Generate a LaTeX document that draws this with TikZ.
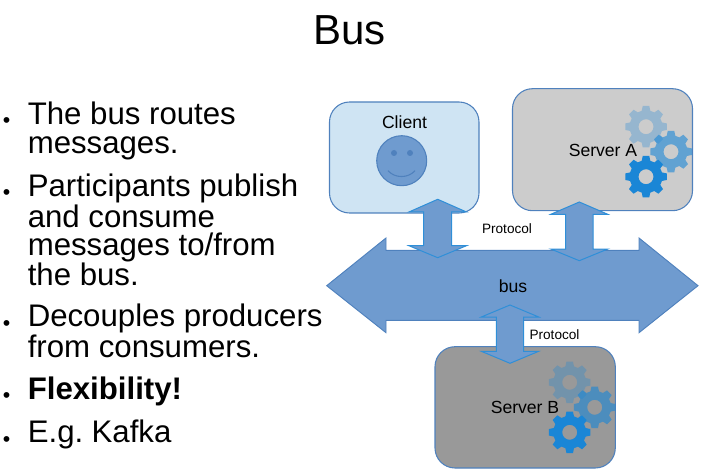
\documentclass[tikz,border=0pt]{standalone}
\usepackage{fontspec}
\setmainfont{Liberation Sans}
\definecolor{busfill}{HTML}{6F9BCF}
\definecolor{busline}{HTML}{4F81BD}
\definecolor{arrline}{HTML}{2F8FD8}
\definecolor{clientfill}{HTML}{CFE4F3}
\definecolor{gearblue}{HTML}{1A86D6}
\newcommand{\gearat}[3]{%
  \begin{scope}[shift={(#1,#2)}]
    \fill[gearblue,fill opacity=#3,even odd rule]
      (-15:16.5)
      \foreach \a in {0,45,...,315}{
        -- ({\a-15}:16.5) -- ({\a-9}:21) -- ({\a+9}:21) -- ({\a+15}:16.5)
      } -- cycle
      (0,0) circle (7.5);
  \end{scope}}
\newcommand{\gearset}[2]{%
  \begin{scope}[shift={(#1,#2)}]
    \gearat{0}{0}{.3}
    \gearat{25}{25}{.6}
    \gearat{0}{50}{1}
  \end{scope}}
\newcommand{\dblarrow}[8]{% x-centre, half head, half shaft, top tip, top base, bottom base, bottom tip, name
  \draw[smallarrow] (#1,#4) -- (#1+#2,#5) -- (#1+#3,#5) -- (#1+#3,#6) -- (#1+#2,#6)
     -- (#1,#7) -- (#1-#2,#6) -- (#1-#3,#6) -- (#1-#3,#5) -- (#1-#2,#5) -- cycle;
  \coordinate (#8) at (#1,#4);}
\tikzset{
  px/.style={x=0.75pt,y=-0.75pt},
  slidetext/.style={font=\fontsize{23.4}{21.2}\selectfont,anchor=north west,inner sep=0pt,align=left},
  bulletmark/.style={font=\fontsize{16}{16}\selectfont,anchor=base,inner sep=0pt},
  box/.style={draw=busline,line width=0.8pt,rounded corners=15pt},
  smallarrow/.style={draw=arrline,fill=busfill,line width=0.75pt,line join=miter},
  lab/.style={font=\fontsize{13.2}{15}\selectfont,inner sep=0pt},
  smalllab/.style={font=\fontsize{10.2}{12}\selectfont,inner sep=0pt}
}
\begin{document}
\begin{tikzpicture}[px]
\useasboundingbox (0,0) rectangle (702,470);
\node[font=\fontsize{31.5}{36}\selectfont,inner sep=0pt] (title) at (349.5,30) {Bus};

\node[slidetext] (p1) at (27.5,102) {The bus routes\\messages.};
\node[slidetext] (p2) at (27.5,174) {Participants publish\\and consume\\messages to/from\\the bus.};
\node[slidetext] (p3) at (27.5,304) {Decouples producers\\from consumers.};
\node[slidetext] (p4) at (27.5,377) {\textbf{Flexibility!}};
\node[slidetext] (p5) at (27.5,420) {E.g.\hspace{-2.4pt} Kafka};
\foreach \n/\y in {b1/127.7,b2/199.7,b3/330.2,b4/402.7,b5/446}
  \node[bulletmark] (\n) at (6.5,\y) {•};

% boxes
\path[box,fill=clientfill] (329.5,102) rectangle (479,213);
\path[box,fill=black!20] (512.5,88.7) rectangle (692.5,210.7);
\path[box,fill=black!40] (435,346.7) rectangle (615.3,468);

% bus
\draw[draw=busline,fill=busfill,line width=0.7pt,line join=miter]
  (326.7,285.7) -- (386,238) -- (386,250.3) -- (639,250.3) -- (639,238) -- (698,285.7)
  -- (639,332.7) -- (639,320.3) -- (386,320.3) -- (386,332.7) -- cycle;
\node[lab] (bus) at (513,286) {bus};

% smiley
\draw[draw=busline,fill=busfill,line width=0.8pt] (401.7,160.7) circle (25);
\fill[busline] (394,153) circle (3) (410,153) circle (3);
\draw[busline,line width=0.8pt] (388,170.7) .. controls (395,178.5) and (408,178.5) .. (415,170.7);

% gears
\gearset{646}{126.7}
\gearset{569.7}{382.3}

% connectors
\dblarrow{437.7}{28.8}{14}{199.3}{212}{245.7}{257.7}{a1}
\dblarrow{579.3}{28.5}{13.8}{202}{214.3}{249}{260.7}{a2}
\dblarrow{510}{28.7}{13.7}{305}{317}{351.3}{363.3}{a3}

% labels
\node[lab] (client) at (404.5,122) {Client};
\node[lab] (servera) at (603,150) {Server A};
\node[lab] (serverb) at (525,407) {Server B};
\node[smalllab] (prot1) at (507,229) {Protocol};
\node[smalllab] (prot2) at (554.5,334.5) {Protocol};
\end{tikzpicture}
\end{document}
